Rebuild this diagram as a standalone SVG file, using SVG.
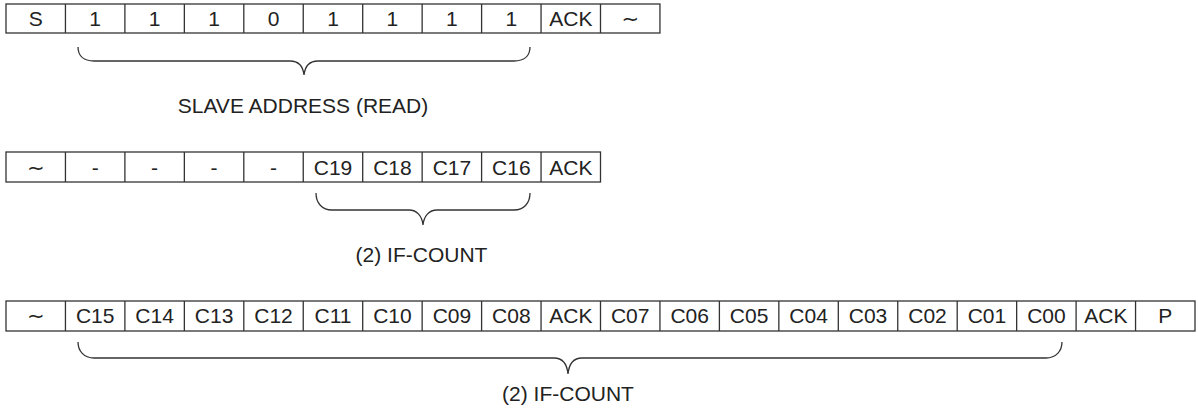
<svg xmlns="http://www.w3.org/2000/svg" width="1198" height="419" viewBox="0 0 1198 419">
<style>
.c{fill:#fff;stroke:#333;stroke-width:1.3}
.t{font-family:"Liberation Sans","DejaVu Sans",sans-serif;font-size:21px;fill:#222;text-anchor:middle}
.b{fill:none;stroke:#333;stroke-width:1.3}
</style>
<rect width="1198" height="419" fill="#fff"/>
<g id="row1">
<rect class="c" x="6" y="4" width="653.95" height="29"/>
<path class="b" d="M65.45,4V33M124.9,4V33M184.35,4V33M243.8,4V33M303.25,4V33M362.7,4V33M422.15,4V33M481.6,4V33M541.05,4V33M600.5,4V33"/>
<text class="t" x="35.7" y="26">S</text>
<text class="t" x="95.2" y="26">1</text>
<text class="t" x="154.6" y="26">1</text>
<text class="t" x="214.1" y="26">1</text>
<text class="t" x="273.5" y="26">0</text>
<text class="t" x="333" y="26">1</text>
<text class="t" x="392.4" y="26">1</text>
<text class="t" x="451.9" y="26">1</text>
<text class="t" x="511.3" y="26">1</text>
<text class="t" x="570.8" y="26">ACK</text>
<text class="t" x="630.2" y="26">∼</text>
</g>
<g id="row2">
<rect class="c" x="6" y="152" width="594.5" height="30"/>
<path class="b" d="M65.45,152V182M124.9,152V182M184.35,152V182M243.8,152V182M303.25,152V182M362.7,152V182M422.15,152V182M481.6,152V182M541.05,152V182"/>
<text class="t" x="35.7" y="174.5">∼</text>
<text class="t" x="95.2" y="174.5">-</text>
<text class="t" x="154.6" y="174.5">-</text>
<text class="t" x="214.1" y="174.5">-</text>
<text class="t" x="273.5" y="174.5">-</text>
<text class="t" x="333" y="174.5">C19</text>
<text class="t" x="392.4" y="174.5">C18</text>
<text class="t" x="451.9" y="174.5">C17</text>
<text class="t" x="511.3" y="174.5">C16</text>
<text class="t" x="570.8" y="174.5">ACK</text>
</g>
<g id="row3">
<rect class="c" x="6" y="301" width="1189" height="30"/>
<path class="b" d="M65.45,301V331M124.9,301V331M184.35,301V331M243.8,301V331M303.25,301V331M362.7,301V331M422.15,301V331M481.6,301V331M541.05,301V331M600.5,301V331M659.95,301V331M719.4,301V331M778.85,301V331M838.3,301V331M897.75,301V331M957.2,301V331M1016.65,301V331M1076.1,301V331M1135.55,301V331"/>
<text class="t" x="35.7" y="323">∼</text>
<text class="t" x="95.2" y="323">C15</text>
<text class="t" x="154.6" y="323">C14</text>
<text class="t" x="214.1" y="323">C13</text>
<text class="t" x="273.5" y="323">C12</text>
<text class="t" x="333" y="323">C11</text>
<text class="t" x="392.4" y="323">C10</text>
<text class="t" x="451.9" y="323">C09</text>
<text class="t" x="511.3" y="323">C08</text>
<text class="t" x="570.8" y="323">ACK</text>
<text class="t" x="630.2" y="323">C07</text>
<text class="t" x="689.7" y="323">C06</text>
<text class="t" x="749.1" y="323">C05</text>
<text class="t" x="808.6" y="323">C04</text>
<text class="t" x="868" y="323">C03</text>
<text class="t" x="927.5" y="323">C02</text>
<text class="t" x="986.9" y="323">C01</text>
<text class="t" x="1046.4" y="323">C00</text>
<text class="t" x="1105.8" y="323">ACK</text>
<text class="t" x="1165.3" y="323">P</text>
</g>
<g id="connectors">
<path class="b" d="M78,47C78,56 84,61 94,61L290,61C298,61 303,66 304,75C305,66 310,61 318,61L514,61C524,61 530,56 530,47"/>
<path class="b" d="M316,193C316,203 322,210 332,210L409,210C417,210 422,216 423,225C424,216 429,210 437,210L514,210C524,210 530,203 530,193"/>
<path class="b" d="M78,342C78,351 84,358 94,358L554,358C562,358 567,364 568,374C569,364 574,358 582,358L1046,358C1056,358 1062,351 1062,342"/>
</g>
<g id="labels">
<text class="t" x="303" y="113">SLAVE ADDRESS (READ)</text>
<text class="t" x="421.5" y="261.5">(2) IF-COUNT</text>
<text class="t" x="568" y="401">(2) IF-COUNT</text>
</g>
</svg>
